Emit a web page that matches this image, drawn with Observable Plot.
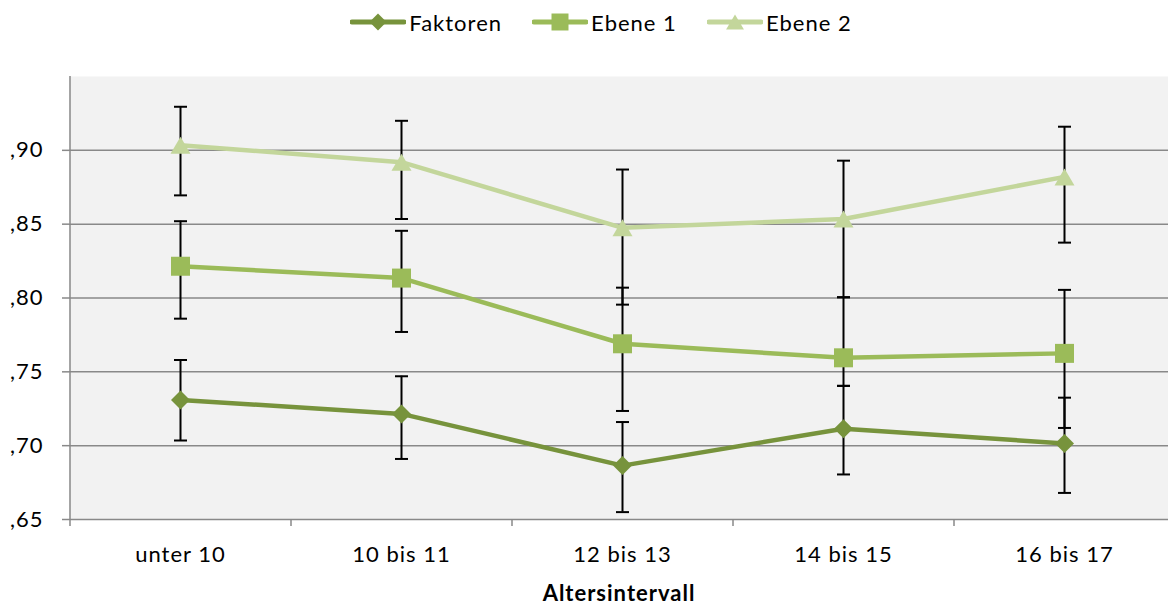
<!DOCTYPE html>
<html><head><meta charset="utf-8">
<script src="https://cdn.jsdelivr.net/npm/d3@7"></script>
<script src="https://cdn.jsdelivr.net/npm/@observablehq/plot@0.6"></script>
<style>
body{margin:0;background:#fff;font-family:Lato,sans-serif;}
#legend{height:44px;display:flex;justify-content:center;align-items:center;gap:30px;font-size:22px;letter-spacing:1px;color:#000;padding-left:34px;}
.item{display:flex;align-items:center;gap:3px;}
.item svg{display:block;}
</style></head><body>
<div id="legend"></div>
<div id="chart"></div>
<script>
const categories = ["unter 10","10 bis 11","12 bis 13","14 bis 15","16 bis 17"];
const seriesNames = ["Faktoren","Ebene 1","Ebene 2"];
const seriesColors = ["#77933C","#9BBB59","#C3D69B"];

const faktoren     = [0.731, 0.7215, 0.6865, 0.7115, 0.7015];
const faktorenHigh = [0.758, 0.747, 0.716, 0.7405, 0.7325];
const faktorenLow  = [0.7035, 0.691, 0.655, 0.6805, 0.668];

const ebene1     = [0.8215, 0.8135, 0.769, 0.7595, 0.7625];
const ebene1High = [0.852, 0.8455, 0.807, 0.8005, 0.8055];
const ebene1Low  = [0.786, 0.777, 0.7235, 0.7405, 0.712];

const ebene2     = [0.9035, 0.892, 0.8475, 0.8535, 0.882];
const ebene2High = [0.9295, 0.920, 0.887, 0.893, 0.916];
const ebene2Low  = [0.8695, 0.8535, 0.7955, 0.8005, 0.8375];

const yTicks = [0.65, 0.70, 0.75, 0.80, 0.85, 0.90];
const yDomain = [0.65, 0.95];
const xLabel = "Altersintervall";

const values = [faktoren, ebene1, ebene2];
const highs = [faktorenHigh, ebene1High, ebene2High];
const lows = [faktorenLow, ebene1Low, ebene2Low];

const rad = size => Math.sqrt(size / Math.PI);
const diamond = {draw(c, s){const r = rad(s); c.moveTo(0,-r); c.lineTo(r,0); c.lineTo(0,r); c.lineTo(-r,0); c.closePath();}};
const square = {draw(c, s){const r = rad(s); c.rect(-r,-r,2*r,2*r);}};
const triangle = {draw(c, s){const r = rad(s); c.moveTo(0,-0.85*r); c.lineTo(r,0.85*r); c.lineTo(-r,0.85*r); c.closePath();}};
const cap = {draw(c, s){const r = rad(s); c.moveTo(-r,0); c.lineTo(r,0);}};
const symbols = [diamond, square, triangle];
const symbolR = [9.5, 9.5, 10];

const rows = seriesNames.flatMap((name, k) => categories.map((cat, i) => ({
  cat, series: name, k, v: values[k][i], hi: highs[k][i], lo: lows[k][i]
})));

const fmt = d => d3.format(".2f")(d).replace(/^0\./, ",");
const gray = "#898989";
const half = 1105 / categories.length / 2;

// legend
const legend = document.getElementById("legend");
seriesNames.forEach((name, k) => {
  const item = document.createElement("div");
  item.className = "item";
  const sym = d3.symbol().type(symbols[k]).size(Math.PI * symbolR[k] * symbolR[k] * 0.8)();
  item.innerHTML = `<svg width="56" height="22"><line x1="2" x2="54" y1="11" y2="11" stroke="${seriesColors[k]}" stroke-width="5" stroke-linecap="round"/><path transform="translate(28,11)" d="${sym}" fill="${seriesColors[k]}"/></svg><span>${name}</span>`;
  legend.appendChild(item);
});

const chart = Plot.plot({
  width: 1168,
  height: 560,
  marginTop: 32,
  marginBottom: 85,
  marginLeft: 69,
  marginRight: 0,
  style: {fontFamily: "Lato", fontSize: "22px", letterSpacing: "1px", color: "#000", background: "transparent", overflow: "visible"},
  x: {type: "point", domain: categories, range: [69, 1174], padding: 0.5},
  y: {domain: yDomain},
  marks: [
    Plot.frame({fill: "#F2F2F2", stroke: null}),
    Plot.gridY(yTicks.slice(1), {stroke: gray, strokeOpacity: 1, strokeWidth: 1.5}),
    Plot.ruleY([yDomain[0]], {stroke: gray, strokeWidth: 1.5}),
    Plot.ruleX([categories[0]], {y1: yDomain[0], y2: yDomain[1], dx: -half, stroke: gray, strokeWidth: 1.5}),
    Plot.axisY(yTicks, {tickSize: 7, tickPadding: 19, tickFormat: fmt, stroke: gray, strokeWidth: 1.5, fill: "#000", fontSize: 22, label: null}),
    Plot.axisX({tickSize: 0, tickPadding: 27, fontSize: 22, fill: "#000", label: null}),
    Plot.axisX({tickSize: 7, tickFormat: () => "", dx: -half, stroke: gray, strokeWidth: 1.5, label: null}),
    Plot.ruleX(rows, {x: "cat", y1: "lo", y2: "hi", stroke: "#000", strokeWidth: 2}),
    Plot.dot(rows, {x: "cat", y: "hi", symbol: () => cap, r: 6.5, stroke: "#000", strokeWidth: 2, fill: "none"}),
    Plot.dot(rows, {x: "cat", y: "lo", symbol: () => cap, r: 6.5, stroke: "#000", strokeWidth: 2, fill: "none"}),
    ...seriesNames.map((name, k) => Plot.line(rows.filter(d => d.k === k), {x: "cat", y: "v", stroke: seriesColors[k], strokeWidth: 4.5})),
    ...seriesNames.map((name, k) => Plot.dot(rows.filter(d => d.k === k), {x: "cat", y: "v", symbol: symbols[k], r: symbolR[k], fill: seriesColors[k], stroke: null})),
    Plot.text([xLabel], {frameAnchor: "bottom", dy: 81, fontWeight: "bold", fontSize: 22, fill: "#000", text: d => d})
  ]
});
document.getElementById("chart").appendChild(chart);
</script>
</body></html>
